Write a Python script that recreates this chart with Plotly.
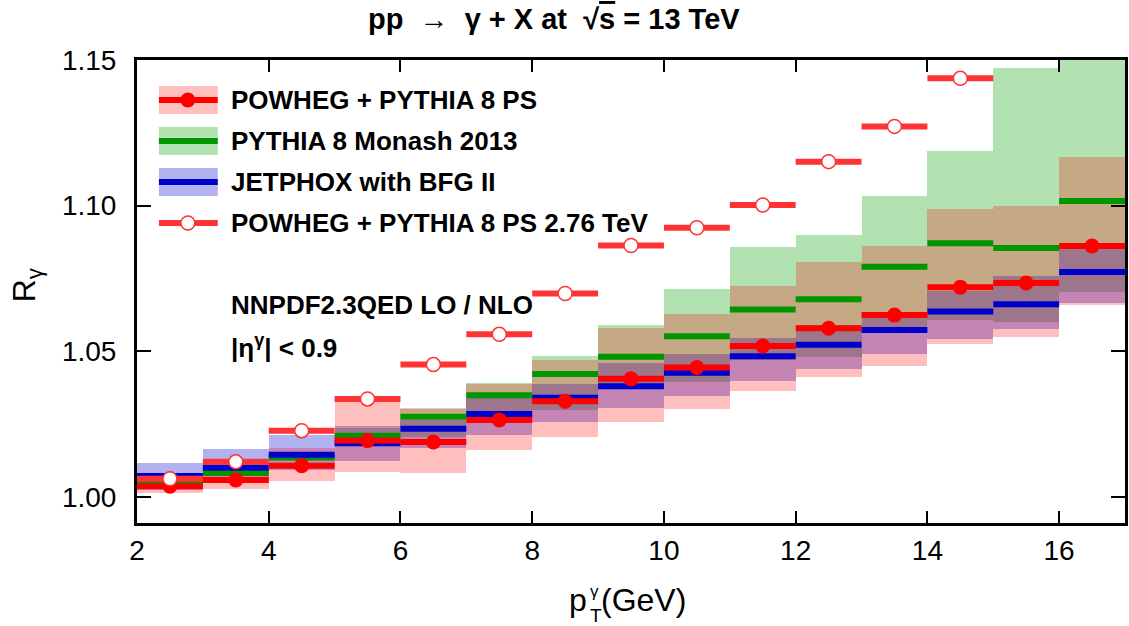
import plotly.graph_objects as go

# ---------------- data ----------------
bin_lo = [2, 3, 4, 5, 6, 7, 8, 9, 10, 11, 12, 13, 14, 15, 16]
bin_hi = [3, 4, 5, 6, 7, 8, 9, 10, 11, 12, 13, 14, 15, 16, 17]

# POWHEG + PYTHIA 8 PS (13 TeV)
powheg = [1.0036, 1.0058, 1.0107, 1.0193, 1.0188, 1.0264, 1.0328, 1.0405,
          1.0444, 1.0518, 1.0579, 1.0624, 1.0720, 1.0734, 1.0861]
powheg_lo = [1.0013, 1.0026, 1.0054, 1.0085, 1.0081, 1.0159, 1.0205, 1.0256,
             1.0300, 1.0362, 1.0410, 1.0450, 1.0525, 1.0549, 1.0658]
powheg_hi = [1.0067, 1.0129, 1.0167, 1.0326, 1.0306, 1.0387, 1.0469, 1.0578,
             1.0627, 1.0723, 1.0805, 1.0860, 1.0990, 1.0999, 1.1168]

# PYTHIA 8 Monash 2013
pythia = [1.0045, 1.0082, 1.0135, 1.0210, 1.0275, 1.0349, 1.0422, 1.0481,
          1.0551, 1.0643, 1.0678, 1.0790, 1.0871, 1.0854, 1.1016]
pythia_lo = [1.0035, 1.0072, 1.0125, 1.0175, 1.0207, 1.0275, 1.0298, 1.0369,
             1.0395, 1.0469, 1.0481, 1.0561, 1.0606, 1.0600, 1.0705]
pythia_hi = [1.0055, 1.0095, 1.0150, 1.0235, 1.0300, 1.0390, 1.0482, 1.0591,
             1.0712, 1.0857, 1.0900, 1.1034, 1.1187, 1.1474, 1.1600]

# JETPHOX with BFG II
jetphox = [1.0071, 1.0100, 1.0144, 1.0184, 1.0234, 1.0284, 1.0340, 1.0380,
           1.0426, 1.0483, 1.0522, 1.0573, 1.0636, 1.0661, 1.0772]
jetphox_lo = [1.0025, 1.0047, 1.0092, 1.0123, 1.0167, 1.0211, 1.0258, 1.0306,
              1.0346, 1.0396, 1.0440, 1.0490, 1.0542, 1.0575, 1.0664]
jetphox_hi = [1.0116, 1.0163, 1.0211, 1.0244, 1.0264, 1.0338, 1.0387, 1.0460,
              1.0492, 1.0547, 1.0591, 1.0630, 1.0708, 1.0758, 1.0853]

# POWHEG + PYTHIA 8 PS 2.76 TeV (first 13 bins)
powheg276 = [1.0062, 1.0120, 1.0227, 1.0336, 1.0454, 1.0558, 1.0698, 1.0863,
             1.0924, 1.1002, 1.1151, 1.1272, 1.1437]

x_ticks = [2, 4, 6, 8, 10, 12, 14, 16]
y_ticks = [1.00, 1.05, 1.10, 1.15]
y_ticklabels = ["1.00", "1.05", "1.10", "1.15"]

# ---------------- styles ----------------
RED = "rgb(255,0,0)"
RED2 = "rgb(255,51,51)"
GREEN = "rgb(0,150,0)"
BLUE = "rgb(0,0,205)"
RED_BAND = "rgba(255,0,0,0.25)"
GREEN_BAND = "rgba(0,160,0,0.30)"
BLUE_BAND = "rgba(0,0,205,0.30)"
FONT = "Liberation Sans, Arial, sans-serif"

W, H = 1129, 626
ML, MR, MT, MB = 137, 1, 60, 103
PW, PH = W - ML - MR, H - MT - MB


def px(xp):
    return (xp - ML) / PW


def py(yp):
    return (H - MB - yp) / PH


centers = [(a + b) / 2 for a, b in zip(bin_lo, bin_hi)]
widths = [b - a for a, b in zip(bin_lo, bin_hi)]


def segments(lo_edges, hi_edges, vals):
    xs, ys = [], []
    for a, b, v in zip(lo_edges, hi_edges, vals):
        xs += [a, b, None]
        ys += [v, v, None]
    return xs, ys


fig = go.Figure()

# bands (green, blue, red order for the colour mixing)
for lo, hi, col in [(pythia_lo, pythia_hi, GREEN_BAND),
                    (jetphox_lo, jetphox_hi, BLUE_BAND),
                    (powheg_lo, powheg_hi, RED_BAND)]:
    fig.add_trace(go.Bar(
        x=centers, y=[h - l for h, l in zip(hi, lo)], base=lo, width=widths,
        marker=dict(color=col, line=dict(width=0)), showlegend=False,
        hoverinfo="skip"))

# central lines
for vals, col in [(pythia, GREEN), (jetphox, BLUE), (powheg, RED)]:
    xs, ys = segments(bin_lo, bin_hi, vals)
    fig.add_trace(go.Scatter(x=xs, y=ys, mode="lines",
                             line=dict(color=col, width=6),
                             showlegend=False, hoverinfo="skip"))

fig.add_trace(go.Scatter(x=centers, y=powheg, mode="markers",
                         marker=dict(color=RED, size=15, line=dict(width=0)),
                         showlegend=False))

# 2.76 TeV
n276 = len(powheg276)
xs, ys = segments(bin_lo[:n276], bin_hi[:n276], powheg276)
fig.add_trace(go.Scatter(x=xs, y=ys, mode="lines",
                         line=dict(color=RED2, width=6),
                         showlegend=False, hoverinfo="skip"))
fig.add_trace(go.Scatter(x=centers[:n276], y=powheg276, mode="markers",
                         marker=dict(color="white", size=14,
                                     line=dict(color=RED2, width=1.5)),
                         showlegend=False))

# ---------------- manual legend ----------------
shapes = []
annotations = []
leg_x0, leg_x1 = 159, 218
rows = [
    (100, RED_BAND, RED, "POWHEG + PYTHIA 8 PS", "filled"),
    (141, GREEN_BAND, GREEN, "PYTHIA 8 Monash 2013", None),
    (182, BLUE_BAND, BLUE, "JETPHOX with BFG II", None),
    (223, None, RED2, "POWHEG + PYTHIA 8 PS 2.76 TeV", "open"),
]
for yc, band, col, label, mk in rows:
    if band:
        shapes.append(dict(type="rect", xref="paper", yref="paper",
                           x0=px(leg_x0), x1=px(leg_x1), y0=py(yc + 14),
                           y1=py(yc - 14), fillcolor=band, line=dict(width=0),
                           layer="above"))
    shapes.append(dict(type="line", xref="paper", yref="paper",
                       x0=px(leg_x0), x1=px(leg_x1), y0=py(yc), y1=py(yc),
                       line=dict(color=col, width=6), layer="above"))
    if mk == "filled":
        r = 7.5
        shapes.append(dict(type="circle", xref="paper", yref="paper",
                           x0=px(188 - r), x1=px(188 + r), y0=py(yc + r),
                           y1=py(yc - r), fillcolor=RED, line=dict(width=0),
                           layer="above"))
    elif mk == "open":
        r = 7
        shapes.append(dict(type="circle", xref="paper", yref="paper",
                           x0=px(188 - r), x1=px(188 + r), y0=py(yc + r),
                           y1=py(yc - r), fillcolor="white",
                           line=dict(color=RED2, width=1.5), layer="above"))
    annotations.append(dict(xref="paper", yref="paper", x=px(229), y=py(yc),
                            xanchor="left", yanchor="middle", showarrow=False,
                            text="<b>%s</b>" % label,
                            font=dict(family=FONT, size=26, color="black")))

annotations.append(dict(xref="paper", yref="paper", x=px(229), y=py(305),
                        xanchor="left", yanchor="middle", showarrow=False,
                        text="<b>NNPDF2.3QED LO / NLO</b>",
                        font=dict(family=FONT, size=26, color="black")))
annotations.append(dict(xref="paper", yref="paper", x=px(229), y=py(346),
                        xanchor="left", yanchor="middle", showarrow=False,
                        text="<b>|η<sup>γ</sup>| &lt; 0.9</b>",
                        font=dict(family=FONT, size=26, color="black")))

# title
annotations.append(dict(xref="paper", yref="paper", x=px(555), y=py(19),
                        xanchor="center", yanchor="middle", showarrow=False,
                        text="<b>pp  →  γ + X at  √<span style='text-decoration:overline'>s</span> = 13 TeV</b>",
                        font=dict(family=FONT, size=29, color="black")))

# axis titles
annotations.append(dict(xref="paper", yref="paper", x=px(590), y=py(600),
                        xanchor="right", yanchor="middle", showarrow=False,
                        text="p", font=dict(family=FONT, size=32, color="black")))
annotations.append(dict(xref="paper", yref="paper", x=px(589), y=py(591),
                        xanchor="left", yanchor="middle", showarrow=False,
                        text="γ", font=dict(family=FONT, size=17, color="black")))
annotations.append(dict(xref="paper", yref="paper", x=px(589), y=py(615),
                        xanchor="left", yanchor="middle", showarrow=False,
                        text="T", font=dict(family=FONT, size=19, color="black")))
annotations.append(dict(xref="paper", yref="paper", x=px(600), y=py(600),
                        xanchor="left", yanchor="middle", showarrow=False,
                        text="(GeV)", font=dict(family=FONT, size=32, color="black")))
annotations.append(dict(xref="paper", yref="paper", x=px(26), y=py(285),
                        xanchor="center", yanchor="middle", showarrow=False,
                        textangle=-90,
                        text="R<sub>γ</sub>", font=dict(family=FONT, size=32, color="black")))

fig.update_layout(
    width=W, height=H,
    margin=dict(l=ML, r=MR, t=MT, b=MB, pad=0),
    paper_bgcolor="white", plot_bgcolor="white",
    barmode="overlay", bargap=0,
    showlegend=False,
    shapes=shapes, annotations=annotations,
    font=dict(family=FONT, color="black"),
)
fig.update_xaxes(range=[2, 17], tickvals=x_ticks, ticks="inside", ticklen=12,
                 tickwidth=1.5, tickcolor="black", showline=True, linewidth=3,
                 linecolor="black", mirror="ticks", showgrid=False,
                 zeroline=False, tickfont=dict(family=FONT, size=28))
fig.update_yaxes(range=[0.991, 1.15], tickvals=y_ticks, ticktext=y_ticklabels,
                 ticks="inside", ticklen=14, tickwidth=1.5, tickcolor="black",
                 showline=True, linewidth=3, linecolor="black", mirror="ticks",
                 showgrid=False, zeroline=False, ticklabelstandoff=12,
                 tickfont=dict(family=FONT, size=28))

fig.write_html("out.html",
               config={"displayModeBar": False},
               post_script="document.body.style.margin='0px';"
                           "document.body.style.padding='0px';")
